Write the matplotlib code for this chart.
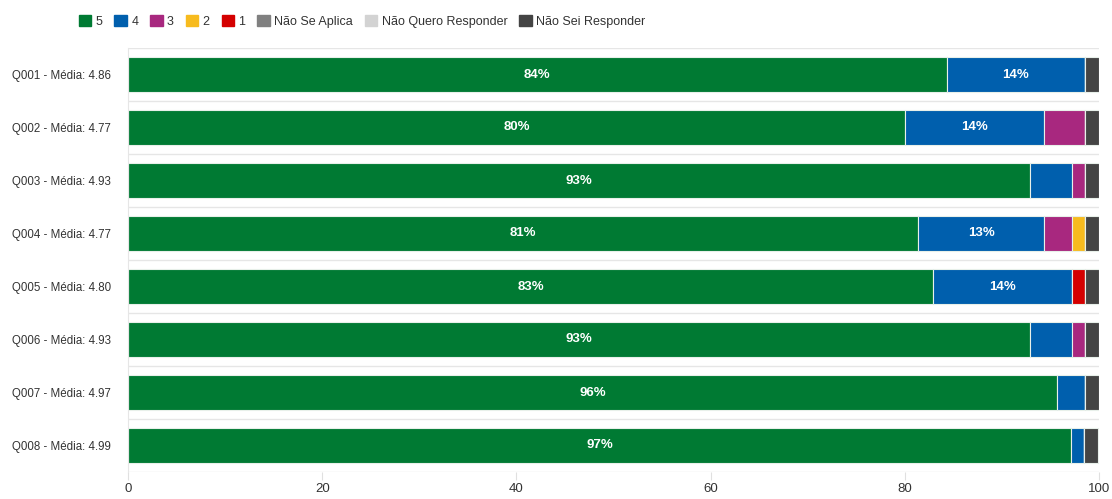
import matplotlib.pyplot as plt
import numpy as np
from matplotlib.patches import Patch

plt.rcParams['font.family'] = ['Liberation Sans', 'DejaVu Sans']

questions = ['Q001', 'Q002', 'Q003', 'Q004', 'Q005', 'Q006', 'Q007', 'Q008']
medias = ['4.86', '4.77', '4.93', '4.77', '4.80', '4.93', '4.97', '4.99']

series_names = ['5', '4', '3', '2', '1', 'Não Se Aplica', 'Não Quero Responder', 'Não Sei Responder']
colors = ['#007a33', '#005fad', '#a8287f', '#f7bb1e', '#d40000', '#808080', '#d3d3d3', '#444444']

# percentages per answer, one list per series (same order as questions)
s5 = [84.3, 80.0, 92.9, 81.4, 82.9, 92.9, 95.7, 97.1]
s4 = [14.3, 14.3, 4.3, 12.9, 14.3, 4.3, 2.9, 1.4]
s3 = [0, 4.3, 1.4, 2.9, 0, 1.4, 0, 0]
s2 = [0, 0, 0, 1.4, 0, 0, 0, 0]
s1 = [0, 0, 0, 0, 1.4, 0, 0, 0]
nsa = [0, 0, 0, 0, 0, 0, 0, 0]
nqr = [0, 0, 0, 0, 0, 0, 0, 0]
nsr = [1.4, 1.4, 1.4, 1.4, 1.4, 1.4, 1.4, 1.4]

data = [s5, s4, s3, s2, s1, nsa, nqr, nsr]
labels = [q + ' - Média: ' + m for q, m in zip(questions, medias)]

fig = plt.figure(figsize=(11.12, 4.99), dpi=100)
ax = fig.add_axes([128 / 1112, 1 - 472 / 499, (1099 - 128) / 1112, (472 - 48) / 499])

y = np.arange(len(questions))
left = np.zeros(len(questions))
for name, vals, c in zip(series_names, data, colors):
    vals = np.array(vals, dtype=float)
    ax.barh(y, vals, left=left, height=0.65, color=c, edgecolor='#e8f0ea',
            linewidth=0.8, label=name)
    for i, v in enumerate(vals):
        if v >= 10:
            ax.text(left[i] + v / 2, y[i], '%d%%' % round(v), ha='center', va='center',
                    color='white', fontsize=9.5, fontweight='bold')
    left += vals

ax.set_ylim(len(questions) - 0.5, -0.5)
ax.set_xlim(0, 100)
ax.set_yticks(y)
ax.set_yticklabels(labels, fontsize=8.3, color='#333333')
ax.tick_params(axis='y', length=0, pad=12)
ax.set_xticks([0, 20, 40, 60, 80, 100])
ax.tick_params(axis='x', length=6, color='#e0e0e0', labelsize=9.5, labelcolor='#333333', pad=2)

for k in range(len(questions) + 1):
    ax.axhline(k - 0.5, color='#e6e6e6', linewidth=1, zorder=0)

for s in ['top', 'right', 'bottom']:
    ax.spines[s].set_visible(False)
ax.spines['left'].set_color('#e6e6e6')

handles = [Patch(facecolor=c, edgecolor=c, label=n) for n, c in zip(series_names, colors)]
leg = fig.legend(handles=handles, loc='upper left', bbox_to_anchor=(70 / 1112, 1 - 6 / 499), ncol=8,
                 frameon=False, fontsize=9, handlelength=1.0, handleheight=1.0,
                 handletextpad=0.35, columnspacing=0.95, borderaxespad=0.3)
for t in leg.get_texts():
    t.set_color('#333333')

fig.savefig('out.png', dpi=100)
